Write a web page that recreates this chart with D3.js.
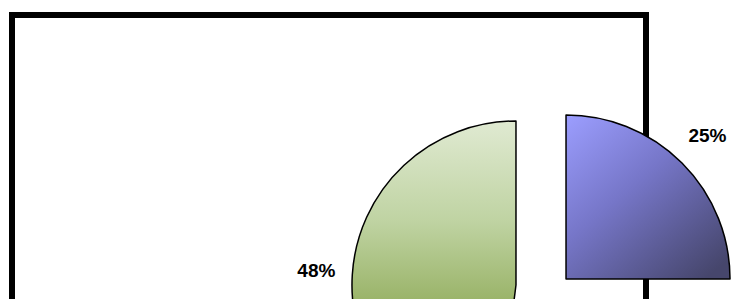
<!DOCTYPE html>
<html>
<head>
<meta charset="utf-8">
<script src="https://cdn.jsdelivr.net/npm/d3@7"></script>
<style>
  body { margin: 0; background: #fff; }
  .pctLabel { font-family: "Liberation Sans", Arial, sans-serif; font-weight: bold; font-size: 19px; fill: #000; }
</style>
</head>
<body>
<div id="chart"></div>
<script>
// slice data, clockwise from 12 o'clock
const sliceNames = ["A", "B", "C"];
const sliceValues = [25, 27, 48];
const sliceLabels = ["25%", "27%", "48%"];

// layout
const width = 731, height = 299;
const pieCenter = {x: 557.4, y: 287.6};
const radius = 164;
const labelRadius = 200;
const explode = [12.2, 30, 41.5];

const svg = d3.select("#chart").append("svg")
    .attr("width", width)
    .attr("height", height);

// plot area border, drawn below the slices
svg.append("rect")
    .attr("x", 12).attr("y", 15)
    .attr("width", 634).attr("height", 320)
    .attr("fill", "none")
    .attr("stroke", "#000")
    .attr("stroke-width", 6);

let defs = svg.append("defs");

let gBlue = defs.append("linearGradient").attr("id", "grad0")
    .attr("x1", "0").attr("y1", "0").attr("x2", "0.85").attr("y2", "1");
gBlue.append("stop").attr("offset", "0").attr("stop-color", "#9c9eff");
gBlue.append("stop").attr("offset", "0.45").attr("stop-color", "#7676c8");
gBlue.append("stop").attr("offset", "1").attr("stop-color", "#46466c");

let gRed = defs.append("linearGradient").attr("id", "grad1")
    .attr("x1", "0").attr("y1", "0").attr("x2", "0").attr("y2", "1");
gRed.append("stop").attr("offset", "0").attr("stop-color", "#c06090");
gRed.append("stop").attr("offset", "1").attr("stop-color", "#702248");

// green is lit from the top, userSpace so the visible part matches
let gGreen = defs.append("linearGradient").attr("id", "grad2")
    .attr("gradientUnits", "userSpaceOnUse")
    .attr("x1", 0).attr("y1", -165).attr("x2", 0).attr("y2", 20);
gGreen.append("stop").attr("offset", "0").attr("stop-color", "#e0ead2");
gGreen.append("stop").attr("offset", "0.55").attr("stop-color", "#bfd3a2");
gGreen.append("stop").attr("offset", "1").attr("stop-color", "#98b266");

let pie = d3.pie().sort(null).value(d => d);
let arcs = pie(sliceValues);

let arc = d3.arc().innerRadius(0).outerRadius(radius);

let slices = svg.selectAll(".slice").data(arcs).enter()
    .append("g")
    .attr("class", "slice")
    .attr("transform", (d, i) => {
        let mid = (d.startAngle + d.endAngle) / 2;
        let dx = pieCenter.x + explode[i] * Math.sin(mid);
        let dy = pieCenter.y - explode[i] * Math.cos(mid);
        return "translate(" + dx + "," + dy + ")";
    });

slices.append("path")
    .attr("d", arc)
    .attr("fill", (d, i) => "url(#grad" + i + ")")
    .attr("stroke", "#000")
    .attr("stroke-width", 1.5)
    .attr("stroke-linejoin", "round");

slices.append("text")
    .attr("class", "pctLabel")
    .attr("text-anchor", "middle")
    .attr("dominant-baseline", "central")
    .attr("x", d => labelRadius * Math.sin((d.startAngle + d.endAngle) / 2))
    .attr("y", d => -labelRadius * Math.cos((d.startAngle + d.endAngle) / 2) - 2)
    .text((d, i) => sliceLabels[i]);
</script>
</body>
</html>
